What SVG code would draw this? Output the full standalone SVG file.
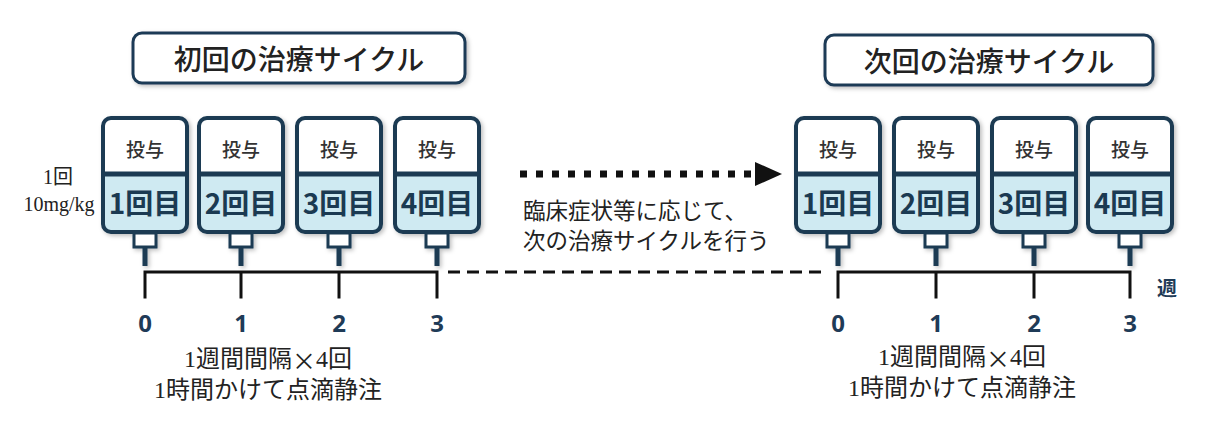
<svg xmlns="http://www.w3.org/2000/svg" xmlns:xlink="http://www.w3.org/1999/xlink" width="1212" height="428" viewBox="0 0 1212 428">
<style>
.cjk{font-family:"Noto Sans CJK JP","Noto Sans",sans-serif;}
.title{font-size:28px;font-weight:500;fill:#222;text-anchor:middle;dominant-baseline:central;}
.tb{fill:#fff;stroke:#1f3b57;stroke-width:3;}
.dose{font-size:19px;font-weight:500;fill:#333;text-anchor:middle;dominant-baseline:central;}
.nth{font-size:28px;font-weight:700;fill:#1b3a52;text-anchor:middle;dominant-baseline:central;}
.num{font-family:"Noto Sans","DejaVu Sans",sans-serif;font-size:24px;font-weight:700;fill:#1f3b57;text-anchor:middle;dominant-baseline:central;}
.note{font-family:"Liberation Serif","Noto Sans CJK JP",serif;font-size:24px;fill:#222;text-anchor:middle;dominant-baseline:central;}
.x{font-family:"Noto Sans CJK JP",sans-serif;}
.mid{font-size:22.5px;fill:#222;dominant-baseline:central;}
.axis{stroke:#111;stroke-width:3;fill:none;stroke-linecap:square;}
.ol{fill:none;stroke:#1b3a52;stroke-width:4;}
.serif{font-family:"Liberation Serif","Noto Sans CJK JP",serif;font-size:20px;fill:#222;text-anchor:middle;dominant-baseline:central;}
</style>
<defs>
<filter id="sh" x="-20%" y="-20%" width="140%" height="140%">
<feDropShadow dx="2" dy="2" stdDeviation="2" flood-color="#000" flood-opacity="0.25"/>
</filter>
<g id="bag">
<path d="M-42,174 V126 Q-42,118 -34,118 H34 Q42,118 42,126 V174 Z" fill="#fff"/>
<path d="M-42,174 V224 Q-42,232 -34,232 H34 Q42,232 42,224 V174 Z" fill="#cfeaf2"/>
<rect x="-42" y="118" width="84" height="114" rx="8" class="ol"/>
<line x1="-42" y1="174" x2="42" y2="174" stroke="#1b3a52" stroke-width="5"/>
<rect x="-11" y="233" width="22" height="14" fill="#fff" stroke="#1b3a52" stroke-width="3"/>
<line x1="0" y1="248" x2="0" y2="266" stroke="#1b3a52" stroke-width="5"/>
</g>
</defs>
<rect width="1212" height="428" fill="#fff"/>

<g id="title-first">
<rect x="133" y="33" width="332" height="50" rx="9" class="tb" filter="url(#sh)"/>
<text x="299" y="58" class="cjk title">初回の治療サイクル</text>
</g>
<g id="title-next">
<rect x="825" y="35" width="328" height="50" rx="9" class="tb" filter="url(#sh)"/>
<text x="989" y="60" class="cjk title">次回の治療サイクル</text>
</g>

<g id="dose-label">
<text x="58" y="177" class="serif">1回</text>
<text x="59" y="204" class="serif">10mg/kg</text>
</g>

<g id="bag-L1" transform="translate(145,0)"><use xlink:href="#bag" filter="url(#sh)"/><text x="0" y="148" class="cjk dose">投与</text><text x="0" y="202" class="cjk nth">1回目</text></g>
<g id="bag-L2" transform="translate(241,0)"><use xlink:href="#bag" filter="url(#sh)"/><text x="0" y="148" class="cjk dose">投与</text><text x="0" y="202" class="cjk nth">2回目</text></g>
<g id="bag-L3" transform="translate(339,0)"><use xlink:href="#bag" filter="url(#sh)"/><text x="0" y="148" class="cjk dose">投与</text><text x="0" y="202" class="cjk nth">3回目</text></g>
<g id="bag-L4" transform="translate(437,0)"><use xlink:href="#bag" filter="url(#sh)"/><text x="0" y="148" class="cjk dose">投与</text><text x="0" y="202" class="cjk nth">4回目</text></g>

<g id="bag-R1" transform="translate(838,0)"><use xlink:href="#bag" filter="url(#sh)"/><text x="0" y="148" class="cjk dose">投与</text><text x="0" y="202" class="cjk nth">1回目</text></g>
<g id="bag-R2" transform="translate(936,0)"><use xlink:href="#bag" filter="url(#sh)"/><text x="0" y="148" class="cjk dose">投与</text><text x="0" y="202" class="cjk nth">2回目</text></g>
<g id="bag-R3" transform="translate(1034,0)"><use xlink:href="#bag" filter="url(#sh)"/><text x="0" y="148" class="cjk dose">投与</text><text x="0" y="202" class="cjk nth">3回目</text></g>
<g id="bag-R4" transform="translate(1130,0)"><use xlink:href="#bag" filter="url(#sh)"/><text x="0" y="148" class="cjk dose">投与</text><text x="0" y="202" class="cjk nth">4回目</text></g>

<g id="connectors">
<path class="axis" d="M145,272 H437 M145,272 V297 M241,272 V297 M339,272 V297 M437,272 V297"/>
<path class="axis" d="M838,272 H1130 M838,272 V297 M936,272 V297 M1034,272 V297 M1130,272 V297"/>
<line x1="448" y1="272" x2="828" y2="272" stroke="#111" stroke-width="3" stroke-dasharray="12 7"/>
<line x1="520" y1="174" x2="756" y2="174" stroke="#111" stroke-width="7" stroke-dasharray="7 9"/>
<polygon points="755,162 782,174 755,186" fill="#111"/>
</g>

<g id="mid-text">
<text x="523" y="209" class="cjk mid">臨床症状等に応じて、</text>
<text x="523" y="239" class="cjk mid">次の治療サイクルを行う</text>
</g>

<g id="axis-labels">
<text x="145" y="322" class="num">0</text>
<text x="241" y="322" class="num">1</text>
<text x="339" y="322" class="num">2</text>
<text x="437" y="322" class="num">3</text>
<text x="838" y="322" class="num">0</text>
<text x="936" y="322" class="num">1</text>
<text x="1034" y="322" class="num">2</text>
<text x="1130" y="322" class="num">3</text>
<text x="1167" y="287" class="cjk" font-size="20" font-weight="700" fill="#1f3b57" text-anchor="middle" dominant-baseline="central">週</text>
</g>

<g id="notes">
<text x="268" y="359" class="note">1週間間隔<tspan class="x">×</tspan>4回</text>
<text x="268" y="390" class="note">1時間かけて点滴静注</text>
<text x="962" y="357" class="note">1週間間隔<tspan class="x">×</tspan>4回</text>
<text x="962" y="388" class="note">1時間かけて点滴静注</text>
</g>
</svg>
